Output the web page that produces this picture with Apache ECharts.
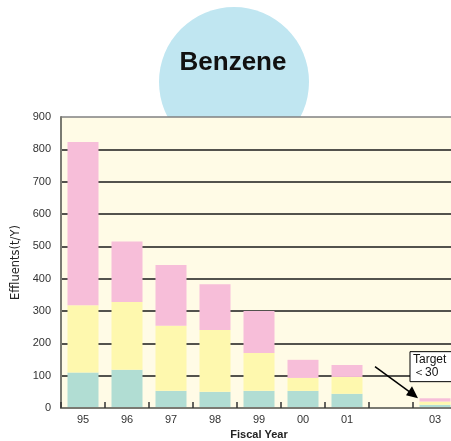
<!DOCTYPE html>
<html>
<head>
<meta charset="utf-8">
<script src="https://cdn.jsdelivr.net/npm/echarts@6/dist/echarts.min.js"></script>
<style>
  html, body { margin: 0; padding: 0; background: #fff; }
  #chart { width: 451px; height: 441px; }
</style>
</head>
<body>
<div id="chart"></div>
<script>
var years = ['95', '96', '97', '98', '99', '00', '01', '', '03'];
var partA = [110, 118, 53, 50, 53, 53, 44, null, 10];   // teal
var partB = [208, 210, 201, 191, 117, 40, 52, null, 10]; // yellow
var partC = [505, 187, 188, 142, 130, 56, 37, null, 10]; // pink
var yTicks = [0, 100, 200, 300, 400, 500, 600, 700, 800, 900];
var targetText = 'Target\n＜30';

var chart = echarts.init(document.getElementById('chart'));

function bar(name, data, color) {
  return {
    name: name,
    type: 'bar',
    stack: 'total',
    barWidth: 31,
    data: data,
    itemStyle: { color: color },
    silent: true,
    z: 10
  };
}

// split line colours: dark lines, top one grey
var splitColors = yTicks.map(function (v, i) {
  return i === yTicks.length - 1 ? '#808080' : '#1a1a1a';
});

var option = {
  animation: false,
  grid: {
    left: 61,
    top: 117,
    width: 396,
    height: 291,
    outerBoundsMode: 'none',
    containLabel: false,
    show: true,
    backgroundColor: '#fffbe6',
    borderWidth: 0
  },
  xAxis: {
    type: 'category',
    data: years,
    name: 'Fiscal Year',
    nameLocation: 'middle',
    nameGap: 20,
    nameTextStyle: { fontFamily: 'Liberation Sans', fontWeight: 'bold', fontSize: 11, color: '#222' },
    axisLine: { lineStyle: { color: '#7a7a72', width: 2 } },
    axisTick: { show: true, inside: true, length: 6, interval: 0, lineStyle: { color: '#333', width: 1.5 } },
    axisLabel: { fontFamily: 'Liberation Sans', fontSize: 11, color: '#333', margin: 6, interval: 0 },
    z: 12
  },
  yAxis: {
    type: 'value',
    min: 0,
    max: 900,
    interval: 100,
    name: 'Effluents(t/Y)',
    nameLocation: 'middle',
    nameGap: 38,
    nameRotate: 90,
    nameTextStyle: { fontFamily: 'DejaVu Sans', fontSize: 11.5, color: '#222' },
    axisLine: { show: true, lineStyle: { color: '#7a7a72', width: 2 } },
    axisTick: { show: false },
    axisLabel: { fontFamily: 'Liberation Sans', fontSize: 11, color: '#333', margin: 10 },
    splitLine: { show: true, lineStyle: { color: splitColors, width: 1.5 } },
    z: 1
  },
  series: [
    bar('A', partA, '#b1ddd3'),
    bar('B', partB, '#fef8ae'),
    bar('C', partC, '#f7bed9')
  ],
  graphic: [
    {
      id: 'bubble',
      type: 'circle',
      shape: { cx: 234, cy: 82, r: 75 },
      style: { fill: '#c0e6f1' },
      z: -10,
      silent: true
    },
    {
      id: 'title',
      type: 'text',
      x: 233,
      y: 63,
      style: {
        text: 'Benzene',
        fill: '#111',
        font: 'bold 26px "Liberation Sans"',
        textAlign: 'center',
        textVerticalAlign: 'middle'
      },
      z: 10
    }
  ]
};

chart.setOption(option);

// annotation placed relative to the 03 bar and the 100 gridline
var p03 = chart.convertToPixel({ gridIndex: 0 }, ['03', 30]);
var p100 = chart.convertToPixel({ gridIndex: 0 }, ['', 100]);
var bx = p03[0] - 25, by = p100[1] - 24;
chart.setOption({
  graphic: [
    {
      id: 'arrowLine',
      type: 'line',
      shape: { x1: p03[0] - 60, y1: by + 15, x2: p03[0] - 22, y2: p03[1] - 4 },
      style: { stroke: '#000', lineWidth: 1.5 },
      z: 20
    },
    {
      id: 'arrowHead',
      type: 'polygon',
      shape: {
        points: [
          [p03[0] - 17, p03[1] - 0],
          [p03[0] - 29, p03[1] - 3],
          [p03[0] - 23, p03[1] - 12]
        ]
      },
      style: { fill: '#000' },
      z: 20
    },
    {
      id: 'targetBox',
      type: 'rect',
      shape: { x: bx, y: by, width: 46, height: 30 },
      style: { fill: '#fff', stroke: '#000', lineWidth: 1 },
      z: 21
    },
    {
      id: 'targetText',
      type: 'text',
      x: bx + 3,
      y: by + 2,
      style: {
        text: targetText,
        fill: '#111',
        font: '12px "Liberation Sans"',
        lineHeight: 13
      },
      z: 22
    }
  ]
});
</script>
</body>
</html>
